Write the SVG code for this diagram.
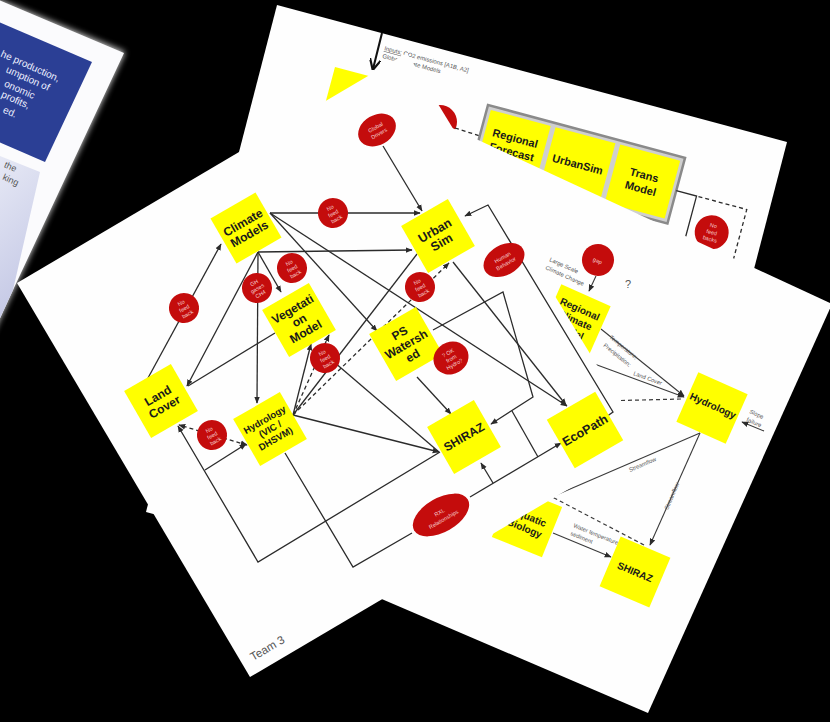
<svg xmlns="http://www.w3.org/2000/svg" width="830" height="722" viewBox="0 0 830 722">
<defs>
<style>
.paper{fill:#fefefe}
.ln{stroke:#2b2b2b;stroke-width:1.3;fill:none}
.dl{stroke:#2b2b2b;stroke-width:1.3;fill:none;stroke-dasharray:4 3}
.gl{stroke:#3a3a3a;stroke-width:1.1;fill:none}
.gd{stroke:#3a3a3a;stroke-width:1.2;fill:none;stroke-dasharray:4 3}
.box{fill:#ffff00}
.bt{font-family:"Liberation Sans",Arial,sans-serif;font-weight:bold;fill:#1a1a1a;text-anchor:middle}
.red{fill:#c40c0c}
.ct{font-family:"Liberation Sans",Arial,sans-serif;font-size:5.5px;fill:#f6d0d0;text-anchor:middle}
.lab{font-family:"Liberation Sans",Arial,sans-serif;fill:#555}
.wt{font-family:"Liberation Sans",Arial,sans-serif;font-size:10px;fill:#eef0ff;text-anchor:end}
</style>
<marker id="ah" viewBox="0 0 10 10" refX="9" refY="5" markerWidth="7" markerHeight="7" markerUnits="userSpaceOnUse" orient="auto-start-reverse"><path d="M0,1 L10,5 L0,9 z" fill="#2b2b2b"/></marker>
<marker id="ahb" viewBox="0 0 10 10" refX="9" refY="5" markerWidth="11" markerHeight="11" markerUnits="userSpaceOnUse" orient="auto"><path d="M0,0 L10,5 L0,10" fill="none" stroke="#111" stroke-width="2"/></marker>
<filter id="soft" x="-20%" y="-20%" width="140%" height="140%"><feGaussianBlur stdDeviation="3"/></filter>
<linearGradient id="photo" x1="0" y1="0" x2="0.3" y2="1"><stop offset="0" stop-color="#eceef8"/><stop offset="1" stop-color="#c2c6e4"/></linearGradient>
<g id="nfb"><circle class="red" r="15"/><text class="ct"><tspan x="0" y="-4">No</tspan><tspan x="0" y="2.5">feed</tspan><tspan x="0" y="9">back</tspan></text></g>
</defs>

<rect width="830" height="722" fill="#000"/>

<!-- brochure page, far left -->
<g id="slide-1">
<polygon points="-60,-25 125,52 -10,340 -100,300" fill="#fff" filter="url(#soft)" opacity="0.85"/>
<polygon points="-60,-25 124,53 13,290 -10,340 -100,300" fill="#fbfbfd"/>
<polygon points="-20,14 92,62 45,162 -20,134" fill="#2b3f95"/>
<polygon points="-20,148 40,172 13,290 -10,340 -20,330" fill="url(#photo)"/>
<text class="wt" transform="translate(58,82) rotate(24)">he production,</text>
<text class="wt" transform="translate(48,91) rotate(24)">umption of</text>
<text class="wt" transform="translate(33,99) rotate(24)">onomic</text>
<text class="wt" transform="translate(28,109) rotate(24)">profits,</text>
<text class="wt" transform="translate(15,118) rotate(24)">ed.</text>
<text class="lab" font-size="9" text-anchor="end" transform="translate(15,172) rotate(24)">the</text>
<text class="lab" font-size="9" text-anchor="end" transform="translate(17,186) rotate(24)">king</text>
</g>

<!-- second sheet: inputs and forecast chain -->
<g id="slide-2">
<polygon class="paper" points="277,5 787,142 655,650 146,512"/>
<line x1="382" y1="33" x2="373" y2="69" stroke="#111" stroke-width="2" marker-end="url(#ahb)"/>
<g class="lab" font-size="6" transform="translate(384,50) rotate(15)">
<text x="0" y="0"><tspan text-decoration="underline">Inputs:</tspan> CO2 emissions [A1B, A2]</text>
<text x="0" y="8">Global Climate Models</text>
</g>
<rect class="box" transform="translate(335,67) rotate(15)" width="70" height="60"/>
<circle class="red" cx="440" cy="122" r="17"/>
<line class="dl" x1="455" y1="128" x2="480" y2="136"/>
<g id="forecast-chain" transform="translate(488,105) rotate(15)">
<rect width="204" height="68" fill="#cfcfcf" stroke="#8a8a8a" stroke-width="2.5"/>
<rect class="box" x="4" y="4" width="62" height="60"/>
<rect class="box" x="71" y="4" width="62" height="60"/>
<rect class="box" x="138" y="4" width="62" height="60"/>
<text class="bt" font-size="11"><tspan x="35" y="29">Regional</tspan><tspan x="35" y="43">Forecast</tspan></text>
<text class="bt" font-size="11" x="102" y="38">UrbanSim</text>
<text class="bt" font-size="11"><tspan x="169" y="31">Trans</tspan><tspan x="169" y="45">Model</tspan></text>
<polyline class="ln" points="204,34 225,34 225,80"/>
<polyline class="dl" points="227,34 277,34 277,110"/>
<g transform="translate(249,65)"><circle class="red" r="17"/><text class="ct" font-size="6"><tspan x="0" y="-5">No</tspan><tspan x="0" y="2">feed</tspan><tspan x="0" y="9">backs</tspan></text></g>
</g>
</g>

<!-- third sheet: hydrology chain -->
<g id="slide-3">
<polygon class="paper" points="448,126 832,304 648,713 265,549"/>
<g id="slide-3-connectors">
<line class="gl" x1="596" y1="276" x2="589" y2="291" marker-end="url(#ah)"/>
<line class="gl" x1="601" y1="329" x2="684" y2="396" marker-end="url(#ah)"/>
<line class="gl" x1="570" y1="355" x2="684" y2="397" marker-end="url(#ah)"/>
<line class="gd" x1="600" y1="401" x2="682" y2="399"/>
<line class="gl" x1="764" y1="431" x2="742" y2="422" marker-end="url(#ah)"/>
<line class="gl" x1="700" y1="433" x2="540" y2="502"/>
<line class="gl" x1="700" y1="433" x2="650" y2="545" marker-end="url(#ah)"/>
<line class="gd" x1="535" y1="488" x2="646" y2="546"/>
<line class="gl" x1="553" y1="533" x2="611" y2="557" marker-end="url(#ah)"/>
</g>
<g id="gap" transform="translate(598,260) rotate(24)"><circle class="red" r="16"/><text class="ct" font-size="8" y="3">gap</text></g>
<g class="lab" font-size="5.8">
<text transform="translate(549,261) rotate(24)">Large Scale</text>
<text transform="translate(545,269) rotate(24)">Climate Change</text>
<text transform="translate(609,338) rotate(39)">Temperature;</text>
<text transform="translate(603,346) rotate(39)">Precipitation;</text>
<text transform="translate(633,375) rotate(20)">Land Cover</text>
<text transform="translate(749,413) rotate(24)">Slope</text>
<text transform="translate(746,421) rotate(24)">failure</text>
<text transform="translate(630,472) rotate(-23)">Streamflow</text>
<text transform="translate(668,510) rotate(-67)">Streamflow</text>
<text transform="translate(573,527) rotate(22)">Water temperature</text>
<text transform="translate(570,535) rotate(22)">sediment</text>
</g>
<text class="lab" font-size="11" fill="#444" x="625" y="288">?</text>
<g id="regional-climate-model" transform="translate(575,320) rotate(24)"><rect class="box" x="-27" y="-27" width="54" height="54"/><text class="bt" font-size="10"><tspan x="0" y="-8.5">Regional</tspan><tspan x="0" y="3.5">Climate</tspan><tspan x="0" y="15.5">Model</tspan></text></g>
<g id="hydrology-2" transform="translate(712,408) rotate(24)"><rect class="box" x="-27" y="-27" width="54" height="54"/><text class="bt" font-size="10" x="0" y="1">Hydrology</text></g>
<g id="aquatic-biology" transform="translate(527,522) rotate(22)"><rect class="box" x="-27" y="-27" width="54" height="54"/><text class="bt" font-size="10"><tspan x="0" y="-2">Aquatic</tspan><tspan x="0" y="10">Biology</tspan></text></g>
<g id="shiraz-2" transform="translate(635,572) rotate(23)"><rect class="box" x="-27" y="-27" width="54" height="54"/><text class="bt" font-size="10" x="0" y="3.5">SHIRAZ</text></g>
</g>

<!-- top sheet: Team 3 model web -->
<g id="slide-main">
<polygon class="paper" points="17,283 407,53 645,444 250,677"/>
<g id="connectors">
<line class="ln" x1="383" y1="146" x2="422" y2="211" marker-end="url(#ah)"/>
<line class="ln" x1="270" y1="213" x2="420" y2="213" marker-end="url(#ah)"/>
<line class="ln" x1="258" y1="252" x2="412" y2="250" marker-end="url(#ah)"/>
<line class="ln" x1="258" y1="252" x2="187" y2="386" marker-end="url(#ah)"/>
<line class="ln" x1="258" y1="252" x2="257" y2="403" marker-end="url(#ah)"/>
<line class="ln" x1="258" y1="252" x2="281" y2="292" marker-end="url(#ah)"/>
<line class="ln" x1="148" y1="378" x2="221" y2="244" marker-end="url(#ah)"/>
<line class="ln" x1="275" y1="333" x2="188" y2="386"/>
<line class="ln" x1="270" y1="213" x2="567" y2="406" marker-end="url(#ah)"/>
<line class="ln" x1="270" y1="213" x2="377" y2="331" marker-end="url(#ah)"/>
<path class="ln" d="M606,417 L613,412 L488,205 L465,216" marker-end="url(#ah)"/>
<path class="ln" d="M433,330 L503,292 L533,397 L491,424" marker-end="url(#ah)"/>
<line class="ln" x1="512" y1="411" x2="538" y2="457"/>
<line class="ln" x1="453" y1="262" x2="566" y2="405" marker-end="url(#ah)"/>
<line class="ln" x1="293" y1="415" x2="311" y2="344" marker-end="url(#ah)"/>
<line class="dl" x1="293" y1="415" x2="329" y2="335" marker-end="url(#ah)"/>
<line class="dl" x1="293" y1="415" x2="449" y2="263" marker-end="url(#ah)"/>
<line class="ln" x1="293" y1="415" x2="417" y2="254"/>
<line class="ln" x1="293" y1="415" x2="439" y2="452" marker-end="url(#ah)"/>
<line class="ln" x1="327" y1="356" x2="439" y2="452"/>
<line class="ln" x1="417" y1="377" x2="451" y2="414" marker-end="url(#ah)"/>
<path class="ln" d="M440,452 L258,562 L178,426" marker-end="url(#ah)"/>
<line class="ln" x1="205" y1="470" x2="246" y2="444" marker-end="url(#ah)"/>
<line class="dl" x1="247" y1="445" x2="179" y2="425" marker-start="url(#ah)" marker-end="url(#ah)"/>
<path class="ln" d="M285,453 L353,567 L412,533"/>
<line class="ln" x1="470" y1="497" x2="561" y2="443" marker-end="url(#ah)"/>
<line class="ln" x1="493" y1="483" x2="481" y2="463" marker-end="url(#ah)"/>
</g>
<g id="climate-models" transform="translate(246,228) rotate(-30)"><rect class="box" x="-26" y="-26" width="52" height="52"/><text class="bt" font-size="12"><tspan x="0" y="-2">Climate</tspan><tspan x="0" y="11">Models</tspan></text></g>
<g id="land-cover" transform="translate(161,401) rotate(-30)"><rect class="box" x="-27" y="-27" width="54" height="54"/><text class="bt" font-size="12"><tspan x="0" y="-2">Land</tspan><tspan x="0" y="11">Cover</tspan></text></g>
<g id="hydrology" transform="translate(270,429) rotate(-30)"><rect class="box" x="-27" y="-27" width="54" height="54"/><text class="bt" font-size="9.5"><tspan x="0" y="-7.5">Hydrology</tspan><tspan x="0" y="3.5">(VIC /</tspan><tspan x="0" y="14.5">DHSVM)</tspan></text></g>
<g id="vegetation-model" transform="translate(299,320) rotate(-30)"><rect class="box" x="-27" y="-27" width="54" height="54"/><text class="bt" font-size="12"><tspan x="0" y="-8.5">Vegetati</tspan><tspan x="0" y="4.5">on</tspan><tspan x="0" y="17.5">Model</tspan></text></g>
<g id="urban-sim" transform="translate(438,236) rotate(-30)"><rect class="box" x="-27" y="-27" width="54" height="54"/><text class="bt" font-size="12.5"><tspan x="0" y="-2">Urban</tspan><tspan x="0" y="11.5">Sim</tspan></text></g>
<g id="ps-watershed" transform="translate(406,344) rotate(-30)"><rect class="box" x="-27" y="-27" width="54" height="54"/><text class="bt" font-size="12"><tspan x="0" y="-8.5">PS</tspan><tspan x="0" y="4.5">Watersh</tspan><tspan x="0" y="17.5">ed</tspan></text></g>
<g id="shiraz" transform="translate(464,437) rotate(-30)"><rect class="box" x="-27" y="-27" width="54" height="54"/><text class="bt" font-size="12" x="0" y="4">SHIRAZ</text></g>
<g id="ecopath" transform="translate(585,430) rotate(-30)"><rect class="box" x="-28" y="-28" width="56" height="56"/><text class="bt" font-size="12.5" x="0" y="4.5">EcoPath</text></g>
<g id="global-drivers" transform="translate(377,130) rotate(-30)"><ellipse class="red" rx="20" ry="15"/><text class="ct" font-size="6"><tspan x="0" y="-1">Global</tspan><tspan x="0" y="6">Drivers</tspan></text></g>
<g id="human-behavior" transform="translate(504,260) rotate(-30)"><ellipse class="red" rx="22" ry="15"/><text class="ct"><tspan x="0" y="-1">Human</tspan><tspan x="0" y="6">Behavior</tspan></text></g>
<g id="ok-from-hydro" transform="translate(451,358) rotate(-30)"><ellipse class="red" rx="18" ry="16"/><text class="ct"><tspan x="0" y="-4">? OK</tspan><tspan x="0" y="2.5">from</tspan><tspan x="0" y="9">Hydro?</tspan></text></g>
<g id="rxl-relationships" transform="translate(441,515) rotate(-30)"><ellipse class="red" rx="31" ry="17"/><text class="ct" font-size="6"><tspan x="0" y="-1">RXL</tspan><tspan x="0" y="7">Relationships</tspan></text></g>
<g id="gh-gases" transform="translate(257,288) rotate(-30)"><circle class="red" r="15"/><text class="ct"><tspan x="0" y="-4">GH</tspan><tspan x="0" y="2.5">gases</tspan><tspan x="0" y="9">CH4</tspan></text></g>
<use href="#nfb" transform="translate(333,213) rotate(-30)"/>
<use href="#nfb" transform="translate(184,308) rotate(-30)"/>
<use href="#nfb" transform="translate(292,268) rotate(-30)"/>
<use href="#nfb" transform="translate(325,358) rotate(-30)"/>
<use href="#nfb" transform="translate(212,435) rotate(-30)"/>
<use href="#nfb" transform="translate(420,287) rotate(-30)"/>
<text class="lab" font-size="11.5" transform="translate(253,661) rotate(-30)">Team 3</text>
</g>
</svg>
